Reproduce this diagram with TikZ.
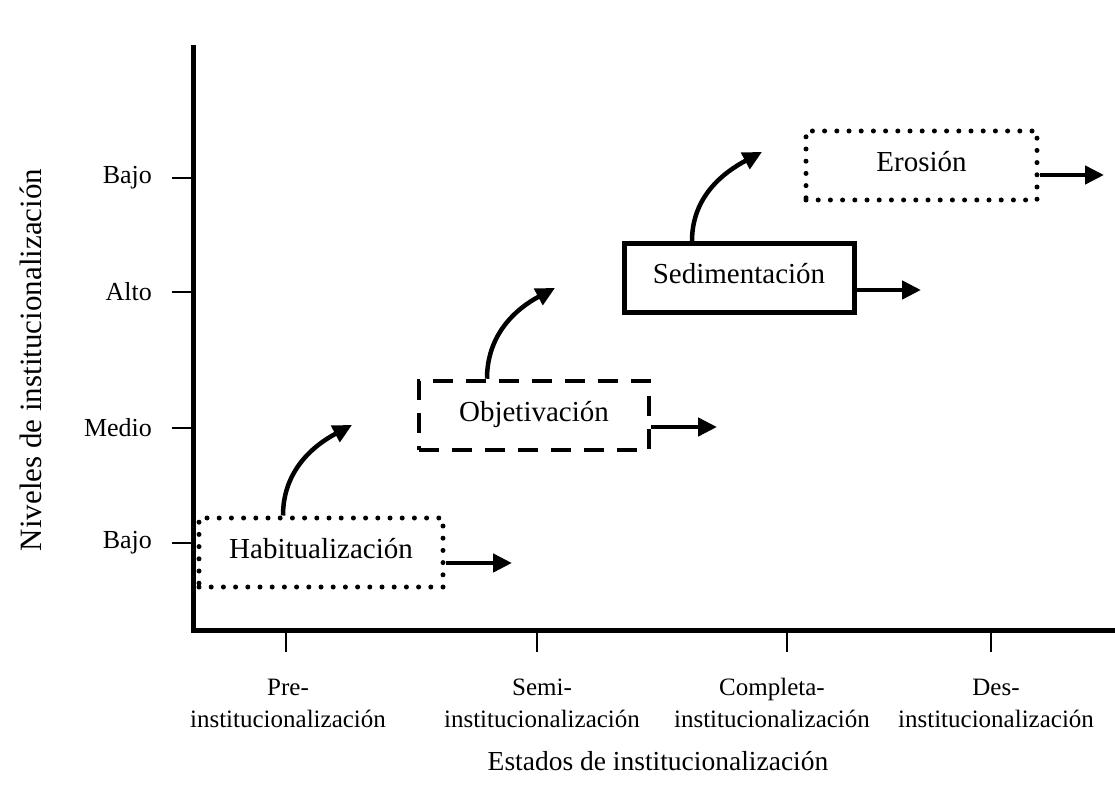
\documentclass[tikz,border=0pt]{standalone}
\usepackage{fontspec}
\setmainfont{Liberation Serif}
\usetikzlibrary{arrows.meta}

\begin{document}
\begin{tikzpicture}[x=1pt, y=1pt, >={Triangle[length=19pt,width=18pt]},
  every node/.style={font=\fontsize{26}{32}\selectfont},
  stage/.style={draw, line width=4.5pt, minimum width=230pt, minimum height=69pt, inner sep=0pt,
    text depth=9pt, font=\fontsize{29}{34}\selectfont},
  dots/.style={dash pattern=on 0pt off 12.2pt, line cap=round, line width=5pt},
  flow/.style={->, line width=4.5pt}]
  \useasboundingbox (0,0) rectangle (1115,785);

  % Axes
  \coordinate (origin) at (193,155);
  \coordinate (ytop) at (193,740);
  \coordinate (xend) at (1115,155);
  \draw[line width=5pt] (ytop) -- (origin) -- (xend);
  \node[rotate=90, font=\fontsize{31}{36}\selectfont] (ylab) at (31,425) {Niveles de institucionalización};
  \node[anchor=base, font=\fontsize{27.5}{32}\selectfont] (xlab) at (658,15) {Estados de institucionalización};

  % Levels
  \foreach \y/\lab/\nm in {607/Bajo/lv4, 493/Alto/lv3, 357/Medio/lv2, 242/Bajo/lv1} {
    \coordinate (t_\nm) at (193,\y);
    \draw[line width=1.5pt] (t_\nm) -- ++(-21,0) node[left=16pt] (\nm) {\lab};
  }

  % States
  \foreach \x/\dx/\lab/\nm in {286/2/Pre-/st1, 537/5/Semi-/st2, 787/-15/Completa-/st3, 991/5/Des-/st4} {
    \coordinate (t_\nm) at (\x,155);
    \draw[line width=1.5pt] (t_\nm) -- ++(0,-22) node[below=17pt, xshift=\dx pt, align=center,
      font=\fontsize{25}{32}\selectfont] (\nm) {\strut\lab\\institucionalización};
  }

  % Stages
  \node[stage, dots, minimum width=244pt] (hab) at (321,232.5) {Habitualización};
  \node[stage, dash pattern=on 20pt off 13pt] (obj) at (534,369.5) {Objetivación};
  \node[stage, line width=5pt] (sed) at (739,507) {Sedimentación};
  \node[stage, dots, minimum width=231pt] (ero) at (921.5,619.5) {Erosión};

  % Rising arrows
  \coordinate (hab_up) at (352,360);
  \coordinate (obj_up) at (555,497);
  \coordinate (sed_up) at (762,633);
  \draw[flow] ([xshift=-38pt]hab.north) to[out=90, in=208] (hab_up);
  \draw[flow] ([xshift=-47pt]obj.north) to[out=90, in=208] (obj_up);
  \draw[flow] ([xshift=-47pt]sed.north) to[out=90, in=208] (sed_up);

  % Forward arrows
  \coordinate (hab_out) at (512,222);
  \coordinate (obj_out) at (717,358);
  \coordinate (sed_out) at (921,495);
  \coordinate (ero_out) at (1104,610);
  \draw[flow] (hab.east |- hab_out) -- (hab_out);
  \draw[flow] (obj.east |- obj_out) -- (obj_out);
  \draw[flow] (sed.east |- sed_out) -- (sed_out);
  \draw[flow] (ero.east |- ero_out) -- (ero_out);
\end{tikzpicture}
\end{document}
